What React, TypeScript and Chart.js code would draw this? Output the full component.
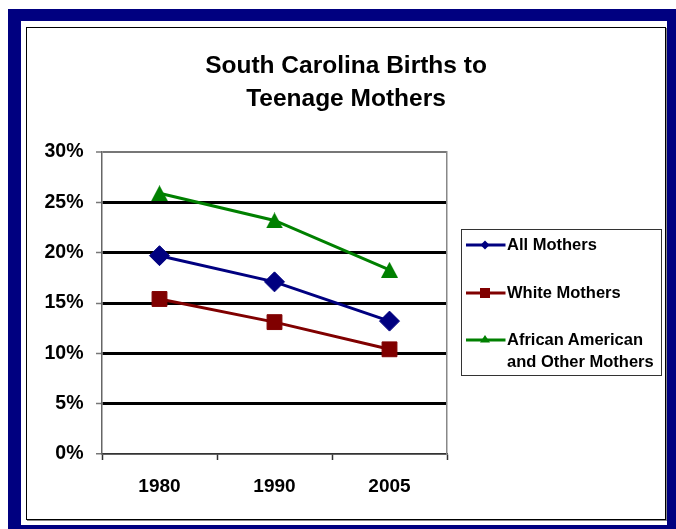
import React, { useEffect, useRef } from "react";
import { Chart, registerables } from "chart.js";

Chart.register(...registerables);

// ---- data ----
const TITLE_LINES = ["South Carolina Births to", "Teenage Mothers"];
const YEARS = ["1980", "1990", "2005"];
const ALL_MOTHERS = [19.7, 17.1, 13.2];
const WHITE_MOTHERS = [15.4, 13.1, 10.4];
const AFRICAN_AMERICAN_OTHER = [25.9, 23.2, 18.3];
const SERIES_NAMES = ["All Mothers", "White Mothers", "African American and Other Mothers"];
const LEGEND_LINES = [["All Mothers"], ["White Mothers"], ["African American", "and Other Mothers"]];
const Y_MIN = 0;
const Y_MAX = 30;
const Y_STEP = 5;

// ---- styles ----
const NAVY = "#000080";
const MAROON = "#800000";
const GREEN = "#008000";
const FONT = "'Liberation Sans', Arial, Helvetica, sans-serif";

function makeTriangle(color: string, w: number, h: number): HTMLCanvasElement {
  const c = document.createElement("canvas");
  c.width = w;
  c.height = h;
  const ctx = c.getContext("2d")!;
  ctx.fillStyle = color;
  ctx.beginPath();
  ctx.moveTo(w / 2, 0);
  ctx.lineTo(w, h);
  ctx.lineTo(0, h);
  ctx.closePath();
  ctx.fill();
  return c;
}

function LegendSymbol({ color, kind }: { color: string; kind: string }) {
  const cx = 20;
  const cy = 8;
  let marker: React.ReactNode = null;
  if (kind === "diamond") {
    marker = <polygon points={`${cx},${cy - 4.5} ${cx + 4.5},${cy} ${cx},${cy + 4.5} ${cx - 4.5},${cy}`} fill={color} />;
  } else if (kind === "square") {
    marker = <rect x={cx - 5} y={cy - 5} width={10} height={10} fill={color} />;
  } else {
    marker = <polygon points={`${cx},${cy - 5} ${cx + 5},${cy + 2.5} ${cx - 5},${cy + 2.5}`} fill={color} />;
  }
  return (
    <svg width={42} height={16} style={{ display: "block" }}>
      <line x1={1} y1={cy} x2={40.5} y2={cy} stroke={color} strokeWidth={3} />
      {marker}
    </svg>
  );
}

export default function App() {
  const canvasRef = useRef<HTMLCanvasElement | null>(null);

  useEffect(() => {
    const canvas = canvasRef.current;
    if (!canvas) return;
    const tri = makeTriangle(GREEN, 17, 16);
    const chart = new Chart(canvas, {
      type: "line",
      data: {
        labels: YEARS,
        datasets: [
          {
            label: SERIES_NAMES[0],
            data: ALL_MOTHERS,
            borderColor: NAVY,
            backgroundColor: NAVY,
            borderWidth: 3,
            pointStyle: "rectRot",
            pointRadius: 10,
            pointBorderWidth: 1,
            pointBackgroundColor: NAVY,
            pointBorderColor: NAVY,
            tension: 0,
          },
          {
            label: SERIES_NAMES[1],
            data: WHITE_MOTHERS,
            borderColor: MAROON,
            backgroundColor: MAROON,
            borderWidth: 3,
            pointStyle: "rect",
            pointRadius: 10.5,
            pointBorderWidth: 1,
            pointBackgroundColor: MAROON,
            pointBorderColor: MAROON,
            tension: 0,
          },
          {
            label: SERIES_NAMES[2],
            data: AFRICAN_AMERICAN_OTHER,
            borderColor: GREEN,
            backgroundColor: GREEN,
            borderWidth: 3,
            pointStyle: tri as any,
            pointRadius: 8,
            tension: 0,
          },
        ],
      },
      options: {
        responsive: false,
        animation: false,
        events: [],
        layout: { padding: { left: 16, right: 0, top: 0, bottom: 15 } },
        plugins: {
          legend: { display: false },
          tooltip: { enabled: false },
          title: {
            display: true,
            text: TITLE_LINES,
            color: "#000",
            font: { family: FONT, size: 24.5, weight: "bold", lineHeight: 32.5 / 24.5 },
            padding: { top: 50, bottom: 37 },
          },
        },
        scales: {
          x: {
            type: "category",
            offset: true,
            grid: {
              display: true,
              drawOnChartArea: false,
              drawTicks: true,
              tickLength: 6,
              offset: true,
              tickColor: "#333",
              tickWidth: 1.5,
            },
            border: { display: true, color: "#333", width: 1.5 },
            ticks: {
              color: "#000",
              font: { family: FONT, size: 19, weight: "bold" },
              padding: 15,
              maxRotation: 0,
              autoSkip: false,
            },
            afterFit: (s: any) => {
              s.height = 60;
            },
          },
          y: {
            type: "linear",
            min: Y_MIN,
            max: Y_MAX,
            ticks: {
              stepSize: Y_STEP,
              callback: (v: any) => v + "%",
              color: "#000",
              font: { family: FONT, size: 19.5, weight: "bold" },
              padding: 12.5,
            },
            grid: {
              color: (c: any) =>
                c.tick && c.tick.value === Y_MAX ? "#777" : c.tick && c.tick.value === Y_MIN ? "#333" : "#000",
              lineWidth: (c: any) =>
                c.tick && c.tick.value === Y_MAX ? 2 : c.tick && c.tick.value === Y_MIN ? 1.5 : 3,
              tickColor: "#777",
              tickWidth: 1.5,
              tickLength: 6,
            },
            border: { display: true, color: "#666", width: 1.5 },
            afterFit: (s: any) => {
              s.width = 86;
            },
          },
          y1: {
            type: "linear",
            position: "right",
            min: Y_MIN,
            max: Y_MAX,
            ticks: { display: false },
            grid: { display: true, drawOnChartArea: false, drawTicks: false },
            border: { display: true, color: "#888", width: 1.5 },
            afterFit: (s: any) => {
              s.width = 229;
            },
          },
        },
      } as any,
    });
    return () => chart.destroy();
  }, []);

  const legendCenters = [244.7, 292.7, 340.2];
  const legendColors = [NAVY, MAROON, GREEN];
  const legendKinds = ["diamond", "square", "triangle"];
  const LH = 21.7;

  return (
    <div style={{ position: "fixed", left: 0, top: 0, width: 676, height: 529, background: "#fff", overflow: "hidden" }}>
      <div
        style={{
          position: "absolute",
          left: 8,
          top: 9,
          width: 668,
          height: 520,
          boxSizing: "border-box",
          borderStyle: "solid",
          borderColor: NAVY,
          borderWidth: "12px 9px 4px 13px",
        }}
      />
      <div
        style={{
          position: "absolute",
          left: 26,
          top: 27,
          width: 640,
          height: 493,
          boxSizing: "border-box",
          border: "1px solid #000",
          boxShadow: "1px 1px 0 #888",
        }}
      />
      <canvas ref={canvasRef} width={676} height={529} style={{ position: "absolute", left: 0, top: 0 }} />
      <div
        style={{
          position: "absolute",
          left: 461,
          top: 229,
          width: 201,
          height: 147,
          boxSizing: "border-box",
          border: "1px solid #333",
        }}
      />
      {legendCenters.map((cy, i) => (
        <React.Fragment key={i}>
          <div style={{ position: "absolute", left: 465, top: cy - 8 }}>
            <LegendSymbol color={legendColors[i]} kind={legendKinds[i]} />
          </div>
          <div
            style={{
              position: "absolute",
              left: 507,
              top: cy - LH / 2,
              fontFamily: FONT,
              fontWeight: "bold",
              fontSize: 16.5,
              lineHeight: LH + "px",
              color: "#000",
              whiteSpace: "nowrap",
            }}
          >
            {LEGEND_LINES[i].map((t, j) => (
              <div key={j}>{t}</div>
            ))}
          </div>
        </React.Fragment>
      ))}
    </div>
  );
}
